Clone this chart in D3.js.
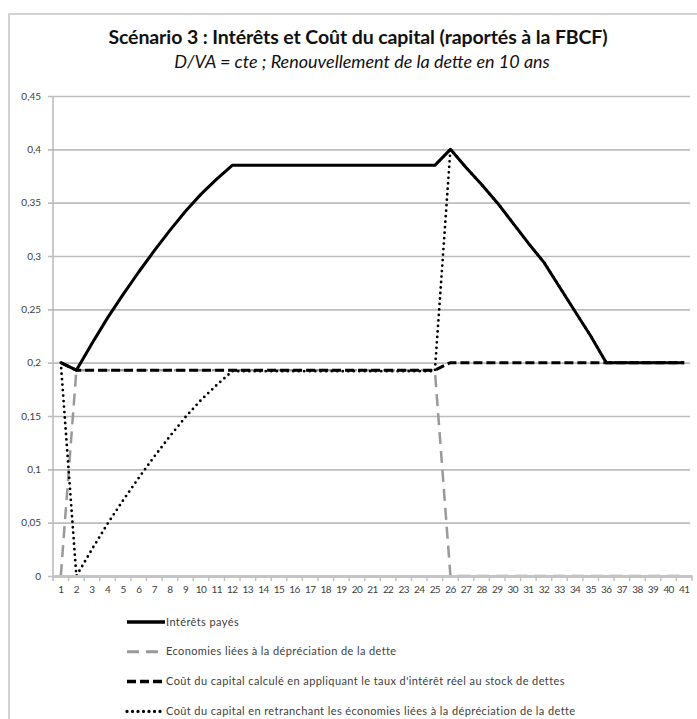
<!DOCTYPE html>
<html>
<head>
<meta charset="utf-8">
<script src="https://cdn.jsdelivr.net/npm/d3@7"></script>
<style>
  body { margin: 0; background: #fff; }
  text { font-family: Lato, "Liberation Sans", sans-serif; }
</style>
</head>
<body>
<div id="chart"></div>
<script>
(function() {
    var width = 697,
        height = 719;

    // categories 1..41
    var years = ["1","2","3","4","5","6","7","8","9","10","11","12","13","14","15","16","17","18","19","20",
                 "21","22","23","24","25","26","27","28","29","30","31","32","33","34","35","36","37","38","39","40","41"];

    var interets = [0.2, 0.193, 0.218, 0.242, 0.264, 0.285, 0.305, 0.324, 0.342, 0.358, 0.372, 0.385,
                    0.385, 0.385, 0.385, 0.385, 0.385, 0.385, 0.385, 0.385, 0.385, 0.385, 0.385, 0.385, 0.385,
                    0.4, 0.383, 0.367, 0.35, 0.331, 0.312, 0.294, 0.271, 0.248, 0.225, 0.2,
                    0.2, 0.2, 0.2, 0.2, 0.2];

    var economies = [0, 0.193, 0.193, 0.193, 0.193, 0.193, 0.193, 0.193, 0.193, 0.193, 0.193, 0.193,
                     0.193, 0.193, 0.193, 0.193, 0.193, 0.193, 0.193, 0.193, 0.193, 0.193, 0.193, 0.193, 0.193,
                     0, 0, 0, 0, 0, 0, 0, 0, 0, 0, 0, 0, 0, 0, 0, 0];

    var coutTaux = [0.2, 0.193, 0.193, 0.193, 0.193, 0.193, 0.193, 0.193, 0.193, 0.193, 0.193, 0.193,
                    0.193, 0.193, 0.193, 0.193, 0.193, 0.193, 0.193, 0.193, 0.193, 0.193, 0.193, 0.193, 0.193,
                    0.2, 0.2, 0.2, 0.2, 0.2, 0.2, 0.2, 0.2, 0.2, 0.2, 0.2, 0.2, 0.2, 0.2, 0.2, 0.2];

    var coutRetranche = [0.2, 0, 0.025, 0.049, 0.071, 0.092, 0.112, 0.131, 0.149, 0.165, 0.179, 0.192,
                         0.192, 0.192, 0.192, 0.192, 0.192, 0.192, 0.192, 0.192, 0.192, 0.192, 0.192, 0.192, 0.192,
                         0.4, 0.383, 0.367, 0.35, 0.331, 0.312, 0.294, 0.271, 0.248, 0.225, 0.2,
                         0.2, 0.2, 0.2, 0.2, 0.2];

    var yTicks = [0, 0.05, 0.1, 0.15, 0.2, 0.25, 0.3, 0.35, 0.4, 0.45];

    var seriesNames = ["Intérêts payés",
                       "Economies liées à la dépréciation de la dette",
                       "Coût du capital calculé en appliquant le taux d'intérêt réel au stock de dettes",
                       "Coût du capital en retranchant les économies liées à la dépréciation de la dette"];

    var series = [
        {name: seriesNames[0], values: interets, color: "#000", width: 3, dash: null, cap: "butt"},
        {name: seriesNames[1], values: economies, color: "#999", width: 2.5, dash: "12,7", cap: "butt"},
        {name: seriesNames[2], values: coutTaux, color: "#000", width: 3, dash: "9,4", cap: "butt"},
        {name: seriesNames[3], values: coutRetranche, color: "#000", width: 2.8, dash: "0,5.5", cap: "round"}
    ];

    var left = 53, right = 692, top = 96, bottom = 576;

    var svg = d3.select("#chart")
        .append("svg")
        .attr("width", width)
        .attr("height", height)

    // chart frame
    svg.append("rect")
        .attr("x", 9).attr("y", 14)
        .attr("width", 720).attr("height", 740)
        .attr("fill", "none")
        .attr("stroke", "#c4c4c4")
        .attr("stroke-width", 1.5)

    svg.append("text")
        .attr("x", 358).attr("y", 44)
        .attr("text-anchor", "middle")
        .attr("font-size", 19.5)
        .attr("font-weight", "bold")
        .attr("letter-spacing", -0.1)
        .attr("fill", "#111")
        .text("Scénario 3 : Intérêts et Coût du capital (raportés à la FBCF)")

    svg.append("text")
        .attr("x", 362).attr("y", 68)
        .attr("text-anchor", "middle")
        .attr("font-size", 18)
        .attr("font-style", "italic")
        .attr("fill", "#111")
        .text("D/VA = cte ; Renouvellement de la dette en 10 ans")

    var x = d3.scaleBand().domain(years).range([left, right]).padding(0);
    var y = d3.scaleLinear().domain([0, 0.45]).range([bottom, top]);

    // gridlines + y labels
    var yAxis = svg.append("g")
        .attr("transform", "translate(" + left + ",0)")
        .call(d3.axisLeft(y).tickValues(yTicks).tickSize(-(right - left - 2))
              .tickFormat(function(d) { return d3.format(".2~f")(d).replace(".", ","); }))
    yAxis.select(".domain").remove()
    yAxis.selectAll(".tick line")
        .attr("x1", -5)
        .attr("stroke", "#bdbdbd")
        .attr("stroke-width", 1.6)
    yAxis.selectAll(".tick text")
        .attr("x", -12)
        .attr("font-size", 10)
        .attr("fill", "#404040")
        .style("font-family", "Lato, sans-serif")

    // y axis line
    svg.append("line")
        .attr("x1", left).attr("x2", left)
        .attr("y1", top).attr("y2", bottom + 5)
        .attr("stroke", "#bdbdbd").attr("stroke-width", 1.6)

    // tick marks between categories
    svg.selectAll(".xtick")
        .data(years)
        .enter().append("line")
        .attr("class", "xtick")
        .attr("x1", function(d) { return x(d) + x.bandwidth(); })
        .attr("x2", function(d) { return x(d) + x.bandwidth(); })
        .attr("y1", bottom)
        .attr("y2", bottom + 5)
        .attr("stroke", "#bdbdbd").attr("stroke-width", 1.4)

    var line = d3.line()
        .x(function(d, i) { return x(years[i]) + x.bandwidth() / 2; })
        .y(function(d) { return y(d); })

    series.forEach(function(s) {
        svg.append("path")
            .datum(s.values)
            .attr("d", line)
            .attr("fill", "none")
            .attr("stroke", s.color)
            .attr("stroke-width", s.width)
            .attr("stroke-dasharray", s.dash)
            .attr("stroke-linecap", s.cap)
            .attr("stroke-linejoin", "round")
    })

    // x axis, drawn over the series so the zero values sit under it
    var xAxis = svg.append("g")
        .attr("transform", "translate(0," + bottom + ")")
        .call(d3.axisBottom(x).tickSize(0).tickPadding(10))
    xAxis.select(".domain")
        .attr("stroke", "#c4c4c4").attr("stroke-width", 2.8)
    xAxis.selectAll(".tick text")
        .attr("font-size", 10)
        .attr("fill", "#404040")
        .style("font-family", "Lato, sans-serif")
        .attr("letter-spacing", -0.6)

    // legend
    var legend = svg.selectAll(".legend")
        .data(series)
        .enter().append("g")
        .attr("class", "legend")
        .attr("transform", function(d, i) { return "translate(127," + (622 + i * 29.8) + ")"; })

    legend.append("line")
        .attr("x1", 0).attr("x2", 38)
        .attr("y1", 0).attr("y2", 0)
        .attr("stroke", function(d) { return d.color; })
        .attr("stroke-width", function(d) { return d.width + 0.5; })
        .attr("stroke-dasharray", function(d) { return d.dash; })
        .attr("stroke-linecap", function(d) { return d.cap; })

    legend.append("text")
        .attr("x", 39).attr("y", 3.5)
        .attr("font-size", 11)
        .attr("letter-spacing", 0.4)
        .attr("fill", "#404040")
        .text(function(d) { return d.name; })
})();
</script>
</body>
</html>
